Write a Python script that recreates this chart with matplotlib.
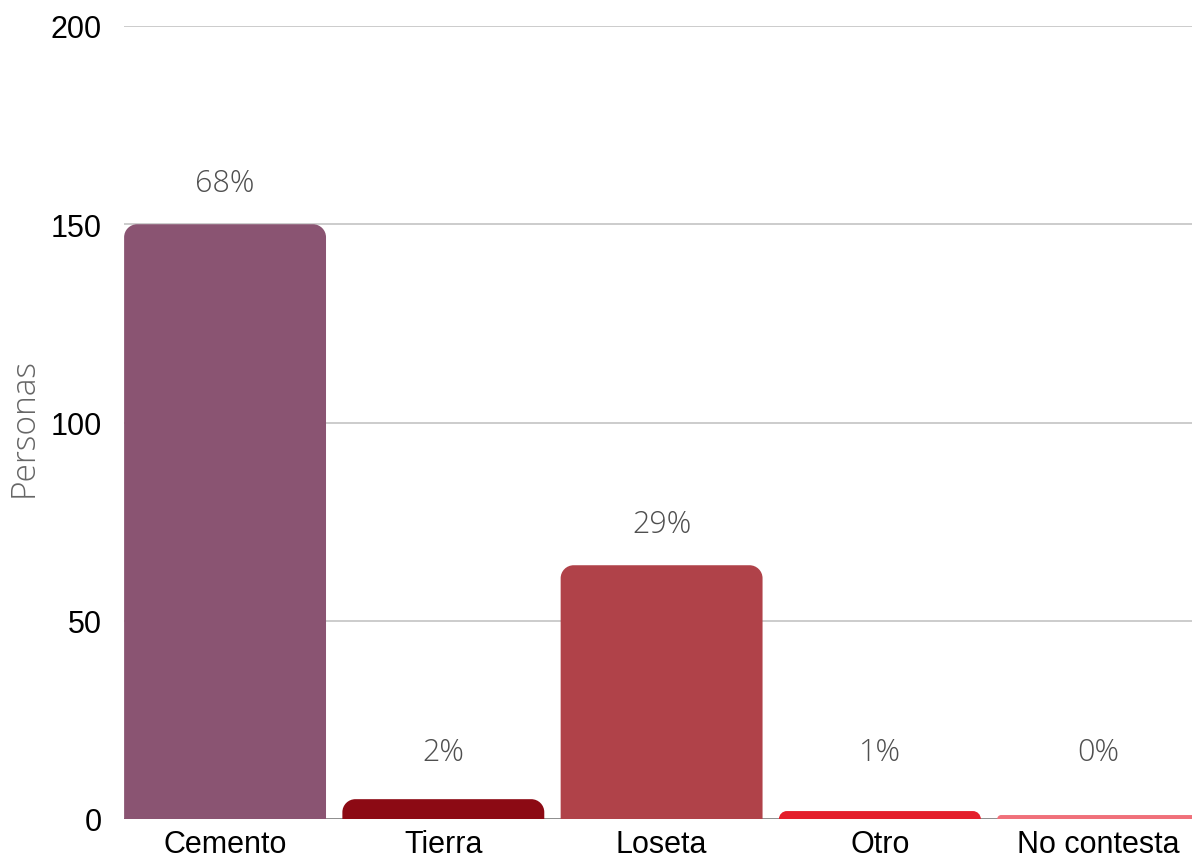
import matplotlib
matplotlib.use("Agg")
import matplotlib.pyplot as plt
from matplotlib.path import Path
from matplotlib.patches import PathPatch

categories = ["Cemento", "Tierra", "Loseta", "Otro", "No contesta"]
values = [150, 5, 64, 2, 1]
percent_labels = ["68%", "2%", "29%", "1%", "0%"]
colors = ["#8A5472", "#8C0A14", "#B04249", "#E41E2B", "#F0707A"]
yticks = [0, 50, 100, 150, 200]

W, H, DPI = 1192, 862, 100
fig = plt.figure(figsize=(W / DPI, H / DPI), dpi=DPI)
ax = fig.add_axes([124 / W, 42 / H, (W - 124) / W, 793 / H])

x = list(range(len(categories)))
bars = ax.bar(x, values, width=0.925, color=colors, zorder=3)
ax.set_xlim(-0.463, 4.43)
ax.set_ylim(0, 200)

# px per data unit
xpx = ax.bbox.width / (ax.get_xlim()[1] - ax.get_xlim()[0])
ypx = ax.bbox.height / (ax.get_ylim()[1] - ax.get_ylim()[0])

K = 0.5523
for b, c in zip(bars, colors):
    x0, w, h = b.get_x(), b.get_width(), b.get_height()
    x1 = x0 + w
    rpx = min(13, h * ypx, w * xpx / 2)
    rx, ry = rpx / xpx, rpx / ypx
    verts = [(x0, 0), (x0, h - ry),
             (x0, h - ry + K * ry), (x0 + rx - K * rx, h), (x0 + rx, h),
             (x1 - rx, h),
             (x1 - rx + K * rx, h), (x1, h - ry + K * ry), (x1, h - ry),
             (x1, 0), (x0, 0)]
    codes = [Path.MOVETO, Path.LINETO,
             Path.CURVE4, Path.CURVE4, Path.CURVE4,
             Path.LINETO,
             Path.CURVE4, Path.CURVE4, Path.CURVE4,
             Path.LINETO, Path.CLOSEPOLY]
    ax.add_patch(PathPatch(Path(verts, codes), facecolor=c, edgecolor="none", zorder=3))
    b.set_visible(False)

for xi, v, lab in zip(x, values, percent_labels):
    ax.text(xi, max(v + 10.5, 17), lab, ha="center", va="center",
            fontsize=22, color="#4f4f4f", family=["Open Sans", "DejaVu Sans"],
            fontweight="light", zorder=4)

ax.set_yticks(yticks)
ax.set_yticklabels([str(t) for t in yticks], fontsize=22,
                   family="Liberation Sans", color="black")
ax.set_xticks(x)
ax.set_xticklabels(categories, fontsize=22, family="Liberation Sans", color="black")
ax.tick_params(axis="y", length=0, pad=16)
ax.tick_params(axis="x", length=0, pad=7)

ax.grid(axis="y", color="#c8c8c8", linewidth=1.3, zorder=0)
ax.axhline(0, color="#8a8a8a", linewidth=1.3, zorder=2)
for s in ax.spines.values():
    s.set_visible(False)

ax.set_ylabel("Personas", fontsize=24, color="#666666",
              family=["Open Sans", "DejaVu Sans"], fontweight="light")
ax.yaxis.label.set_verticalalignment("center")
ax.yaxis.set_label_coords(-0.094, 0.495)

fig.savefig("out.png", dpi=DPI)
